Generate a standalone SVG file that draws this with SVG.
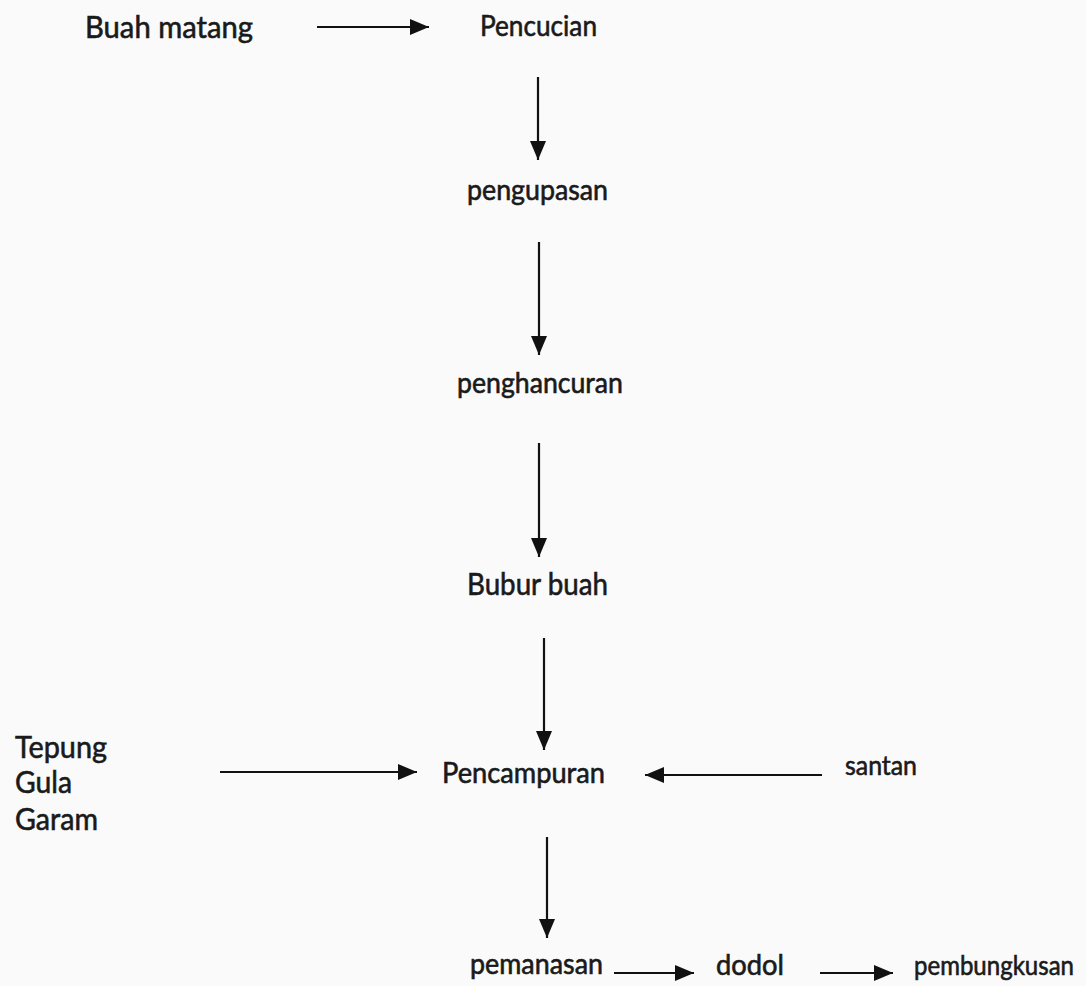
<svg xmlns="http://www.w3.org/2000/svg" width="1086" height="986" viewBox="0 0 1086 986">
<defs>
<style>
.t{font-family:Lato,"Liberation Sans",sans-serif;fill:#1a1a1a;stroke:#1a1a1a;stroke-width:0.6;}
.b{font-size:30px;}
.m{font-size:28px;}
.s{font-size:26px;}
.c{stroke:#111;stroke-width:2.2;fill:none;marker-end:url(#ah);}
</style>
<marker id="ah" markerUnits="userSpaceOnUse" markerWidth="20" markerHeight="18" refX="19" refY="9" orient="auto">
<path d="M0,1 L19,9 L0,17 Z" fill="#111"/>
</marker>
</defs>
<rect width="1086" height="986" fill="#fafafa"/>
<g id="connectors">
<line class="c" x1="317" y1="27" x2="429" y2="27"/>
<line class="c" x1="538" y1="77" x2="538" y2="160"/>
<line class="c" x1="539" y1="242" x2="539" y2="355"/>
<line class="c" x1="539" y1="443" x2="539" y2="557"/>
<line class="c" x1="544" y1="638" x2="544" y2="750"/>
<line class="c" x1="220" y1="772" x2="417" y2="772"/>
<line class="c" x1="822" y1="775" x2="645" y2="775"/>
<line class="c" x1="547" y1="837" x2="547" y2="938"/>
<line class="c" x1="614" y1="973" x2="694" y2="973"/>
<line class="c" x1="820" y1="973" x2="893" y2="973"/>
</g>
<g id="buah-matang"><text class="t b" x="85" y="38" textLength="168" lengthAdjust="spacingAndGlyphs">Buah matang</text></g>
<g id="pencucian"><text class="t m" x="480" y="36" textLength="117" lengthAdjust="spacingAndGlyphs">Pencucian</text></g>
<g id="pengupasan"><text class="t m" x="467" y="200" textLength="141" lengthAdjust="spacingAndGlyphs">pengupasan</text></g>
<g id="penghancuran"><text class="t m" x="457" y="393" textLength="166" lengthAdjust="spacingAndGlyphs">penghancuran</text></g>
<g id="bubur-buah"><text class="t b" x="467" y="595" textLength="141" lengthAdjust="spacingAndGlyphs">Bubur buah</text></g>
<g id="bahan">
<text class="t b" x="15" y="758" textLength="92" lengthAdjust="spacingAndGlyphs">Tepung</text>
<text class="t b" x="15" y="793" textLength="57" lengthAdjust="spacingAndGlyphs">Gula</text>
<text class="t b" x="15" y="830" textLength="83" lengthAdjust="spacingAndGlyphs">Garam</text>
</g>
<g id="pencampuran"><text class="t m" x="442" y="783" textLength="163" lengthAdjust="spacingAndGlyphs">Pencampuran</text></g>
<g id="santan"><text class="t s" x="845" y="775" textLength="72" lengthAdjust="spacingAndGlyphs">santan</text></g>
<g id="pemanasan"><text class="t m" x="470" y="974" textLength="133" lengthAdjust="spacingAndGlyphs">pemanasan</text></g>
<g id="dodol"><text class="t m" x="716" y="975" textLength="68" lengthAdjust="spacingAndGlyphs">dodol</text></g>
<g id="pembungkusan"><text class="t s" x="914" y="975" textLength="160" lengthAdjust="spacingAndGlyphs">pembungkusan</text></g>
</svg>
